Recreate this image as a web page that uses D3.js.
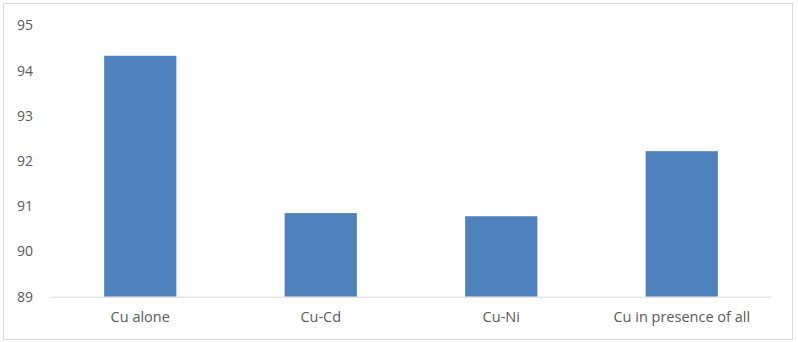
<!DOCTYPE html>
<html>
<head>
<meta charset="utf-8">
<script src="https://cdn.jsdelivr.net/npm/d3@7"></script>
<style>
  body { margin: 0; background: #fff; }
  svg { display: block; }
</style>
</head>
<body>
<div id="chart"></div>
<script>
// values
var categories = ['Cu alone', 'Cu-Cd', 'Cu-Ni', 'Cu in presence of all'];
var values = [94.33, 90.85, 90.78, 92.22];
var yTicks = [89, 90, 91, 92, 93, 94, 95];

var W = 798, H = 342;
var margin = {top: 25.5, left: 50, right: 26, bottom: 45.3};
var width = W - margin.left - margin.right,
    height = H - margin.top - margin.bottom;
var font = '"Open Sans", "Liberation Sans", Arial, sans-serif';

var svg = d3.select('#chart').append('svg')
    .attr('width', W)
    .attr('height', H);

// outer chart frame
svg.append('rect')
    .attr('x', 3.5).attr('y', 3.5)
    .attr('width', 789).attr('height', 336)
    .attr('fill', '#fff')
    .attr('stroke', '#d9d9d9')
    .attr('stroke-width', 1);

var g = svg.append('g')
    .attr('transform', 'translate(' + margin.left + ',' + margin.top + ')');

var x = d3.scaleBand()
    .domain(categories)
    .range([0, width])
    .paddingInner(0.6)
    .paddingOuter(0.3);

var y = d3.scaleLinear()
    .domain([89, 95])
    .range([height, 0]);

g.selectAll('.bar')
    .data(values)
    .enter().append('rect')
    .attr('class', 'bar')
    .attr('x', function(d, i) { return x(categories[i]); })
    .attr('y', function(d) { return y(d); })
    .attr('width', x.bandwidth())
    .attr('height', function(d) { return y(89) - y(d); })
    .attr('fill', '#4f81bd');

// y axis, labels only
var yAxis = g.append('g')
    .call(d3.axisLeft(y).tickValues(yTicks).tickSize(0).tickPadding(17).tickFormat(d3.format('d')));
yAxis.select('.domain').remove();
yAxis.selectAll('text')
    .attr('fill', '#595959')
    .style('font-family', font)
    .style('font-size', '14px');

// x axis
var xAxis = g.append('g')
    .attr('transform', 'translate(0,' + height + ')')
    .call(d3.axisBottom(x).tickSize(0).tickPadding(15));
xAxis.select('.domain')
    .attr('stroke', '#d9d9d9')
    .attr('d', 'M0,0.5H' + width);
xAxis.selectAll('text')
    .attr('fill', '#595959')
    .style('font-family', font)
    .style('font-size', '14.5px');
</script>
</body>
</html>
